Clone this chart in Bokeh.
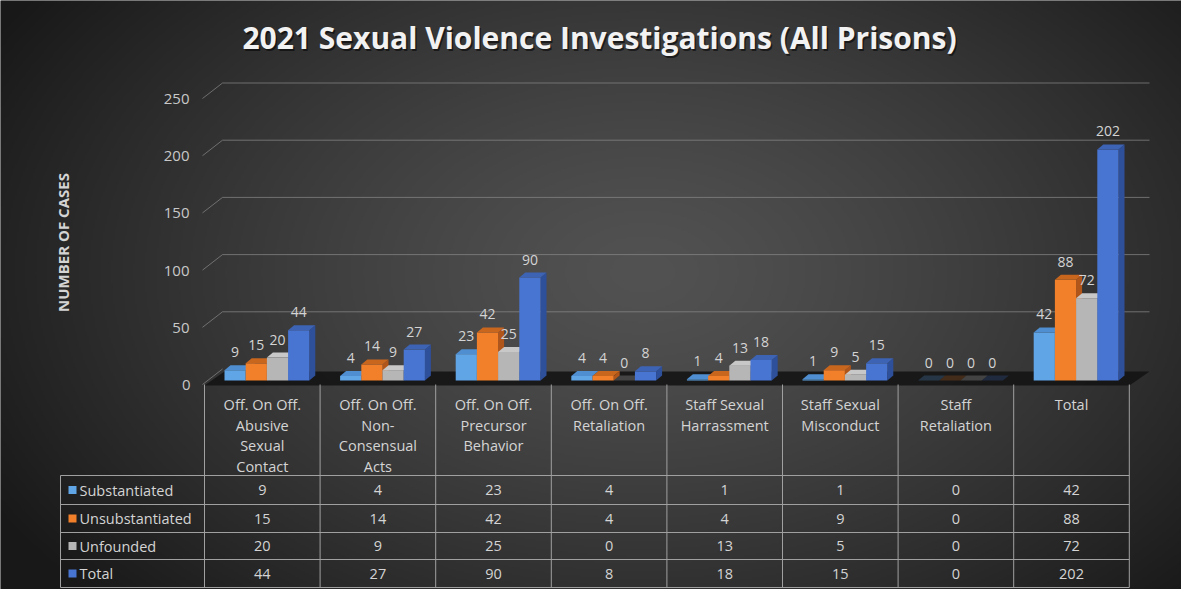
import numpy as np
from bokeh.plotting import figure
from bokeh.models import Range1d
from bokeh.core.properties import value
from bokeh.embed import file_html
from bokeh.resources import INLINE

# ---------------- data ----------------
category_labels = [
    ["Off. On Off.", "Abusive", "Sexual", "Contact"],
    ["Off. On Off.", "Non-", "Consensual", "Acts"],
    ["Off. On Off.", "Precursor", "Behavior"],
    ["Off. On Off.", "Retaliation"],
    ["Staff Sexual", "Harrassment"],
    ["Staff Sexual", "Misconduct"],
    ["Staff", "Retaliation"],
    ["Total"],
]
series_names = ["Substantiated", "Unsubstantiated", "Unfounded", "Total"]
substantiated = [9, 4, 23, 4, 1, 1, 0, 42]
unsubstantiated = [15, 14, 42, 4, 4, 9, 0, 88]
unfounded = [20, 9, 25, 0, 13, 5, 0, 72]
total = [44, 27, 90, 8, 18, 15, 0, 202]
series_values = [substantiated, unsubstantiated, unfounded, total]
y_ticks = [0, 50, 100, 150, 200, 250]
title_text = "2021 Sexual Violence Investigations (All Prisons)"
y_title = "NUMBER OF CASES"

# ---------------- styles ----------------
front_colors = ["#60A5E6", "#F27F2A", "#B6B6B6", "#4875D2"]
top_colors = ["#4F8ED0", "#C9661E", "#C8C8C8", "#3D63B4"]
side_colors = ["#3C70A8", "#B0561A", "#8E8E8E", "#2E4F9A"]
text_color = "#D4D4D4"
FONT = "Open Sans"

W, H = 1181, 589
OFF = 8
CAT_W = 115.6      # px per category column
UNIT = 1.144       # px per case
X0 = 212.0         # page x of table/category start
Y0 = 388.0         # page y of bar base


def fx(page_x):
    return (page_x - X0) / CAT_W


def fy(page_y):
    return (Y0 - page_y) / UNIT


def pw(n):
    return n / CAT_W


def ph(n):
    return n / UNIT


p = figure(width=W, height=H,
           x_range=Range1d(fx(OFF), fx(OFF + W)),
           y_range=Range1d(fy(OFF + H), fy(OFF)),
           output_backend="svg", toolbar_location=None, min_border=0,
           x_axis_location=None, y_axis_location=None)
p.grid.visible = False
p.outline_line_color = None
p.background_fill_color = "#333333"
p.border_fill_color = "#333333"

# ---------------- background gradient ----------------
nx, ny = W // 2, H // 2
gx = np.linspace(OFF, OFF + W, nx)
gy = np.linspace(OFF + H, OFF, ny)
GX, GY = np.meshgrid(gx, gy)
r = np.sqrt(((GX - 650) / 650) ** 2 + ((GY - 280) / 420) ** 2)
g = np.clip(82 - 48 * np.clip(r, 0, 1.15) ** 1.3, 20, 90).astype(np.uint32)
img = (np.uint32(255) << np.uint32(24)) | (g << np.uint32(16)) | (g << np.uint32(8)) | g
p.image_rgba(image=[img.astype(np.uint32)], x=fx(OFF), y=fy(OFF + H),
             dw=fx(OFF + W) - fx(OFF), dh=fy(OFF) - fy(OFF + H))

# ---------------- gridlines (3D wall) ----------------
grid_xs, grid_ys = [], []
for v in y_ticks[1:]:
    grid_xs.append([fx(210), fx(230), fx(1157)])
    grid_ys.append([v - ph(4), v + ph(11.5), v + ph(11.5)])
p.multi_line(grid_xs, grid_ys, line_color="#8A8A8A", line_alpha=0.7, line_width=1)

# floor
p.patch([fx(212), fx(1137), fx(1157), fx(232)],
        [fy(393), fy(393), fy(379), fy(379)],
        fill_color="#141414", fill_alpha=0.9, line_color=None)
p.line([fx(210), fx(230)], [0 - ph(4), 0 + ph(11.5)], line_color="#8A8A8A", line_alpha=0.7)

# ---------------- 3D bars ----------------
BW = pw(21.2)
G0 = pw(20)
DDX = pw(6)
DDY = ph(5)
ncat = len(category_labels)
for j, vals in enumerate(series_values):
    lefts = [i + G0 + j * BW for i in range(ncat)]
    rights = [l + BW for l in lefts]
    # side faces
    sxs, sys_ = [], []
    for xr, v in zip(rights, vals):
        if v > 0:
            sxs.append([xr, xr, xr + DDX, xr + DDX])
            sys_.append([0, v, v + DDY, DDY])
    if sxs:
        p.patches(sxs, sys_, fill_color=side_colors[j], line_color=None)
    # front faces
    p.vbar(x=[(l + rr) / 2 for l, rr in zip(lefts, rights)], width=BW, top=vals, bottom=0,
           fill_color=front_colors[j], line_color=None)
    # top faces
    txs, tys, talpha = [], [], []
    for xl, xr, v in zip(lefts, rights, vals):
        txs.append([xl, xr, xr + DDX, xl + DDX])
        tys.append([v, v, v + DDY, v + DDY])
        talpha.append(1.0 if v > 0 else 0.25)
    p.patches(txs, tys, fill_color=top_colors[j], fill_alpha=talpha, line_color=None)
    # data labels
    p.text(x=[(l + rr) / 2 for l, rr in zip(lefts, rights)], y=vals, text=[str(v) for v in vals],
           y_offset=-18, text_align="center", text_baseline="middle",
           text_font=value(FONT), text_font_size="14px", text_color=text_color)

# ---------------- axis labels ----------------
p.text(x=[fx(197)] * (len(y_ticks) - 1), y=[v - ph(4.5) for v in y_ticks[1:]],
       text=[str(v) for v in y_ticks[1:]],
       text_align="right", text_baseline="middle", text_font=value(FONT),
       text_font_size="15px", text_color="#C8C8C8")
p.text(x=[fx(198)], y=[y_ticks[0] - ph(4)], text=[str(y_ticks[0])],
       text_align="right", text_baseline="middle", text_font=value(FONT),
       text_font_size="15px", text_color="#C8C8C8")
p.text(x=[fx(70)], y=[fy(250)], text=[y_title], angle=np.pi / 2,
       text_align="center", text_baseline="middle", text_font=value(FONT),
       text_font_size="15px", text_font_style="bold", text_color=text_color)

# title with shadow
p.text(x=[fx(607)], y=[fy(45)], text=[title_text], x_offset=1.5, y_offset=2,
       text_align="center", text_baseline="middle", text_font=value(FONT),
       text_font_size="30px", text_font_style="bold", text_color="#000000", text_alpha=0.55)
p.text(x=[fx(607)], y=[fy(45)], text=[title_text],
       text_align="center", text_baseline="middle", text_font=value(FONT),
       text_font_size="30px", text_font_style="bold", text_color="#F2F2F2")

# ---------------- data table ----------------
line_col = "#A0A0A0"
row_lines = [483, 512, 540, 567, 595]
row_centers = [497.5, 526, 553.5, 581]
TFS = "14.5px"
p.segment(x0=list(range(ncat + 1)), y0=[fy(392)] * (ncat + 1),
          x1=list(range(ncat + 1)), y1=[fy(595)] * (ncat + 1), line_color=line_col, line_width=1)
p.segment(x0=[fx(68)], y0=[fy(483)], x1=[fx(68)], y1=[fy(595)], line_color=line_col, line_width=1)
p.segment(x0=[fx(68)] * len(row_lines), y0=[fy(y) for y in row_lines],
          x1=[ncat] * len(row_lines), y1=[fy(y) for y in row_lines], line_color=line_col, line_width=1)

hx, hy, ht = [], [], []
for i, lines in enumerate(category_labels):
    for k, t in enumerate(lines):
        hx.append(i + 0.5)
        hy.append(fy(412 + 20.5 * k))
        ht.append(t)
p.text(x=hx, y=hy, text=ht, text_align="center", text_baseline="middle",
       text_font=value(FONT), text_font_size=TFS, text_color=text_color)

p.rect(x=[fx(80)] * 4, y=[fy(y) for y in row_centers], width=pw(8), height=ph(8),
       fill_color=front_colors, line_color=None)
p.text(x=[fx(87)] * 4, y=[fy(y) for y in row_centers], text=series_names,
       text_align="left", text_baseline="middle", text_font=value(FONT),
       text_font_size=TFS, text_color=text_color)

vx, vy, vt = [], [], []
for j, vals in enumerate(series_values):
    for i, v in enumerate(vals):
        vx.append(i + 0.5)
        vy.append(fy(row_centers[j]))
        vt.append(str(v))
p.text(x=vx, y=vy, text=vt, text_align="center", text_baseline="middle",
       text_font=value(FONT), text_font_size=TFS, text_color=text_color)

open("out.html", "w").write(file_html(p, INLINE))
